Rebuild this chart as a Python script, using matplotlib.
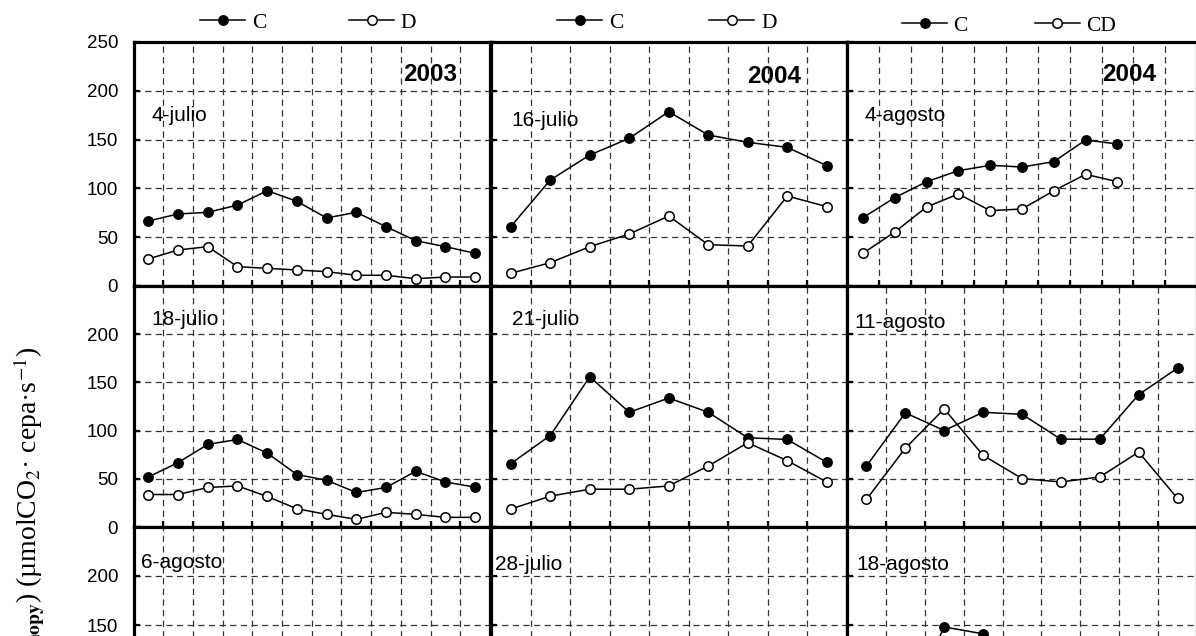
import numpy as np
import matplotlib
matplotlib.use('Agg')
import matplotlib.pyplot as plt

plt.rcParams['mathtext.fontset'] = 'stix'
plt.rcParams['font.family'] = ['Liberation Sans', 'DejaVu Sans']

nan = np.nan

# panel names, year tags, number of hourly categories per panel
panel_dates = [['4-julio', '16-julio', '4-agosto'],
               ['18-julio', '21-julio', '11-agosto'],
               ['6-agosto', '28-julio', '18-agosto']]
panel_years = ['2003', '2004', '2004']
panel_ncat = [[12, 9, 11], [12, 9, 9], [12, 9, 9]]
legend_labels = [['C', 'D'], ['C', 'D'], ['C', 'CD']]
y_ticks = [0, 50, 100, 150, 200, 250]

# row 1
c_4jul = [66.6, 73.8, 75.5, 82.9, 97.6, 86.8, 69.7, 75.5, 60.8, 46.4, 40.3, 33.5]
d_4jul = [27.7, 36.9, 40.3, 19.8, 18.1, 16.4, 14.7, 11.0, 11.0, 7.5, 9.2, 9.2]
c_16jul = [60.8, 108.6, 134.2, 151.3, 178.6, 154.7, 147.2, 142.1, 123.3]
d_16jul = [13.0, 23.9, 40.3, 53.3, 71.7, 42.3, 41.0, 92.2, 81.3]
c_4ago = [70.0, 90.5, 106.9, 118.1, 123.7, 121.9, 127.4, 149.6, 145.5]
cd_4ago = [33.5, 55.3, 80.9, 94.3, 77.2, 78.9, 97.6, 114.4, 106.9]
# row 2
c_18jul = [51.9, 66.8, 85.7, 90.8, 76.7, 54.4, 48.5, 35.8, 41.0, 57.8, 46.7, 41.3]
d_18jul = [33.7, 33.7, 41.0, 42.6, 31.7, 18.9, 13.1, 7.9, 15.2, 13.1, 10.0, 10.0]
c_21jul = [65.7, 94.9, 155.8, 119.0, 133.8, 119.0, 92.6, 90.8, 67.1]
d_21jul = [18.6, 32.0, 39.2, 39.2, 42.6, 63.3, 87.4, 68.8, 46.7]
c_11ago = [63.3, 118.4, 100.1, 119.0, 116.9, 91.1, 91.1, 137.3, 164.8]
cd_11ago = [28.6, 81.8, 122.5, 74.3, 50.3, 46.7, 51.9, 77.7, 29.6]
# row 3 (mostly cut off in the picture)
c_6ago, d_6ago = [], []
c_28jul, d_28jul = [], []
c_18ago = [nan, 62.0, 148.0, 141.0]
cd_18ago = []

series = [[(c_4jul, d_4jul), (c_16jul, d_16jul), (c_4ago, cd_4ago)],
          [(c_18jul, d_18jul), (c_21jul, d_21jul), (c_11ago, cd_11ago)],
          [(c_6ago, d_6ago), (c_28jul, d_28jul), (c_18ago, cd_18ago)]]

W, H = 1196, 636
col_px = [(133.5, 490), (491, 846.5), (847, 1197)]
row_px = [(42, 286), (286, 527), (527, 772)]

date_pos = [[(0.05, 0.697), (0.058, 0.68), (0.05, 0.70)],
            [(0.05, 0.86), (0.058, 0.86), (0.022, 0.85)],
            [(0.022, 0.857), (0.01, 0.845), (0.026, 0.845)]]
year_pos = [(0.908, 0.866), (0.873, 0.857), (0.882, 0.865)]
legend_pos = [(0.1865, 1.079, 3.85), (0.186, 1.079, 4.0), (0.157, 1.066, 3.1)]

fig = plt.figure(figsize=(W / 100, H / 100), dpi=100)
grid_style = dict(color='#333333', linestyle=(0, (5, 3.5)), linewidth=0.9)

for r in range(3):
    for c in range(3):
        x0, x1 = col_px[c]
        y0, y1 = row_px[r]
        ax = fig.add_axes([x0 / W, 1 - y1 / H, (x1 - x0) / W, (y1 - y0) / H])
        n = panel_ncat[r][c]
        s1, s2 = series[r][c]
        h1, = ax.plot(np.arange(len(s1)), s1, color='black', lw=1.1,
                      marker='o', ms=6.8, mfc='black', mec='black')
        h2, = ax.plot(np.arange(len(s2)), s2, color='black', lw=1.1,
                      marker='o', ms=6.8, mfc='white', mec='black', mew=1.1)
        ax.set_xlim(-0.5, n - 0.5)
        ax.set_ylim(0, 250)
        ax.set_xticks(np.arange(0.5, n - 0.5))
        ax.set_xticklabels([])
        ax.set_yticks(y_ticks)
        if c == 0:
            labels = [str(v) for v in y_ticks]
            if r > 0:
                labels[-1] = ''
            ax.set_yticklabels(labels, fontsize=13.5)
        else:
            ax.set_yticklabels([])
        ax.tick_params(direction='in', length=4, width=1.6, pad=11, colors='black')
        ax.set_axisbelow(True)
        ax.grid(True, **grid_style)
        for sp in ax.spines.values():
            sp.set_linewidth(2.3)
        tx, ty = date_pos[r][c]
        ax.text(tx, ty, panel_dates[r][c], transform=ax.transAxes,
                fontsize=15, ha='left', va='center')
        if r == 0:
            yx, yy = year_pos[c]
            ax.text(yx, yy, panel_years[c], transform=ax.transAxes,
                    fontsize=17.5, fontweight='bold', ha='right', va='center')
            lx, ly, cs = legend_pos[c]
            ax.legend([h1, h2], legend_labels[c], loc='center left',
                      bbox_to_anchor=(lx, ly), ncol=2, frameon=False,
                      prop={'family': 'Liberation Serif', 'size': 15.5},
                      handlelength=2.1, handletextpad=0.3, columnspacing=cs,
                      borderpad=0, borderaxespad=0)

fig.text(30 / W, 1 - 347 / H,
         r'(A$_{\mathbf{canopy}}$) (µmolCO$_2$· cepa·s$^{-1}$)',
         rotation=90, ha='center', va='top', fontsize=20,
         family='Liberation Serif')

fig.savefig('out.png', dpi=100)
